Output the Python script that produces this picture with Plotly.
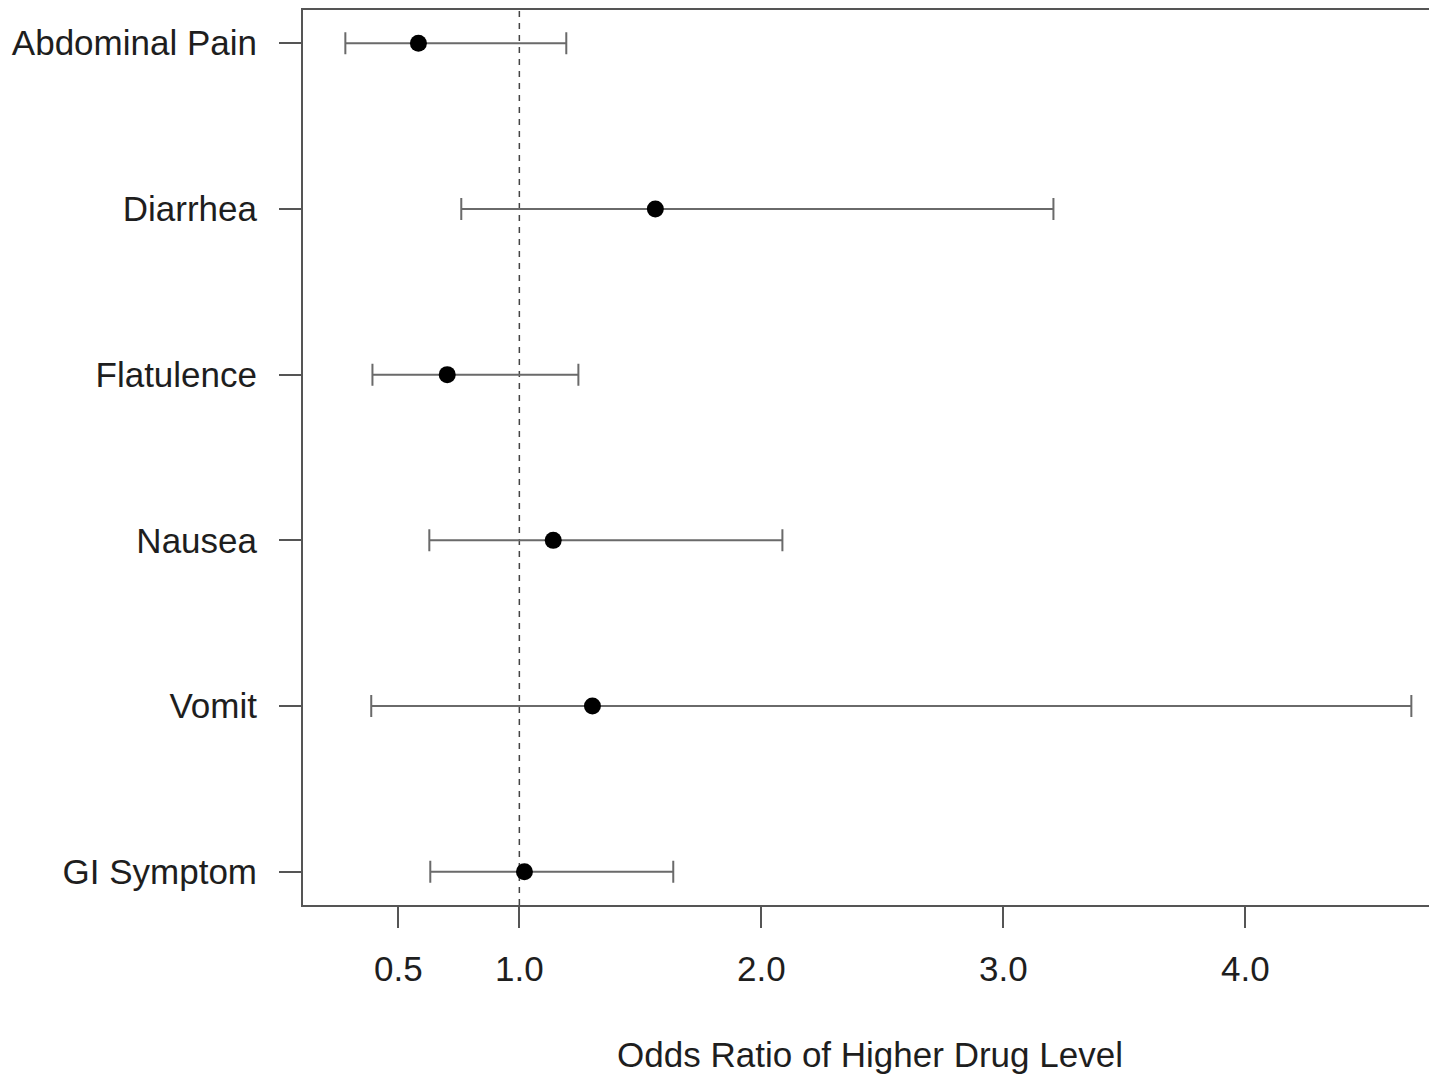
import plotly.graph_objects as go

categories = ["Abdominal Pain", "Diarrhea", "Flatulence", "Nausea", "Vomit", "GI Symptom"]
odds_ratio = [0.583, 1.562, 0.702, 1.140, 1.302, 1.021]
ci_lower = [0.281, 0.760, 0.393, 0.628, 0.388, 0.632]
ci_upper = [1.194, 3.207, 1.244, 2.087, 4.686, 1.636]
x_tick_vals = [0.5, 1.0, 2.0, 3.0, 4.0]
x_tick_text = ["0.5", "1.0", "2.0", "3.0", "4.0"]

n = len(categories)
ypos = [n - 1 - i for i in range(n)]

err_plus = [u - o for u, o in zip(ci_upper, odds_ratio)]
err_minus = [o - l for o, l in zip(odds_ratio, ci_lower)]

FONT = "Liberation Sans, Arial, sans-serif"
TXT = "#1e1e1e"
LINE = "#555555"

fig = go.Figure()
fig.add_trace(go.Scatter(
    x=odds_ratio, y=ypos, mode="markers",
    marker=dict(color="black", size=17),
    error_x=dict(type="data", array=err_plus, arrayminus=err_minus,
                 color="#6a6a6a", thickness=2, width=11),
    showlegend=False, hoverinfo="x+y",
))

fig.add_shape(type="line", xref="x", yref="paper", x0=1.0, x1=1.0, y0=0, y1=1,
              line=dict(color="#444444", width=1.5, dash="6px,6px"), layer="below")

fig.update_layout(
    width=1429, height=1067,
    margin=dict(l=295, r=0, t=2, b=170),
    paper_bgcolor="white", plot_bgcolor="white",
    font=dict(family=FONT, size=35, color=TXT),
    xaxis=dict(
        range=[0.106, 4.792], tickvals=x_tick_vals, ticktext=x_tick_text,
        showgrid=False, zeroline=False,
        showline=True, linecolor=LINE, linewidth=2, mirror=True,
        ticks="outside", ticklen=21, tickwidth=2, tickcolor=LINE,
        tickfont=dict(size=35, color=TXT, family=FONT),
        ticklabelstandoff=11,
        title=dict(text="Odds Ratio of Higher Drug Level",
                   font=dict(size=35, color=TXT, family=FONT), standoff=55),
    ),
    yaxis=dict(
        range=[-0.2, 5.2], tickvals=ypos, ticktext=categories,
        showgrid=False, zeroline=False,
        showline=True, linecolor=LINE, linewidth=2,
        ticks="outside", ticklen=22, tickwidth=2, tickcolor=LINE,
        tickfont=dict(size=35, color=TXT, family=FONT),
        ticklabelstandoff=15,
    ),
)

fig.write_html("out.html")
